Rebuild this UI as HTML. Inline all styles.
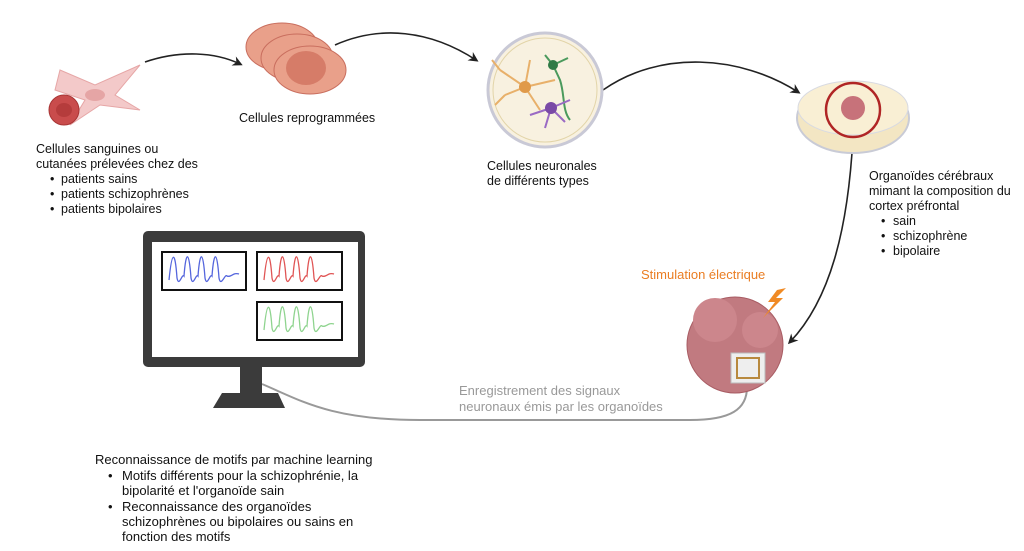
<!DOCTYPE html>
<html><head><meta charset="utf-8"><style>
body{margin:0;background:#fff;}
svg{display:block}
text{font-family:"Liberation Sans",sans-serif;font-size:12.5px;fill:#111}
</style></head><body>
<svg width="1024" height="551" viewBox="0 0 1024 551">
<defs>
<marker id="ah" markerWidth="10" markerHeight="10" refX="7" refY="5" orient="auto" markerUnits="userSpaceOnUse"><path d="M0,0 L10,5 L0,10 L3,5z" fill="#222"/></marker>
</defs>
<!-- arrows -->
<path d="M145,62 C180,50 215,52 240,64" stroke="#222" stroke-width="1.6" fill="none" marker-end="url(#ah)"/>
<path d="M335,45 C380,25 430,30 476,60" stroke="#222" stroke-width="1.6" fill="none" marker-end="url(#ah)"/>
<path d="M603,90 C660,50 740,55 798,92" stroke="#222" stroke-width="1.6" fill="none" marker-end="url(#ah)"/>
<path d="M853,137 C848,230 830,300 790,342" stroke="#222" stroke-width="1.6" fill="none" marker-end="url(#ah)"/>
<!-- gray cable -->
<path d="M262,384 C300,400 330,420 420,420 L690,420 C730,420 748,410 747,385" stroke="#999" stroke-width="2" fill="none"/>
<!-- fibroblast + blood cell -->
<path d="M60,70 L95,85 L140,65 L115,95 L140,110 L100,105 L70,125 L85,100 L55,90 Z" fill="#f3c9c9" stroke="#e6a6a6"/>
<ellipse cx="95" cy="95" rx="10" ry="6" fill="#e5a5a5"/>
<circle cx="64" cy="110" r="15" fill="#c94c4c" stroke="#a83535"/>
<ellipse cx="64" cy="110" rx="8" ry="7" fill="#b53c3c"/>
<!-- reprogrammed cells -->
<ellipse cx="282" cy="47" rx="36" ry="24" fill="#e9a08a" stroke="#c96e5e"/>
<ellipse cx="297" cy="58" rx="36" ry="24" fill="#e9a08a" stroke="#c96e5e"/>
<ellipse cx="310" cy="70" rx="36" ry="24" fill="#e9a08a" stroke="#c96e5e"/>
<ellipse cx="306" cy="68" rx="20" ry="17" fill="#d67c68"/>
<!-- neuron dish -->
<circle cx="545" cy="90" r="57" fill="#f8f1e0" stroke="#c9c9d6" stroke-width="3"/>
<circle cx="545" cy="90" r="52" fill="none" stroke="#e2d4a8" stroke-width="1"/>
<g stroke="#e8b06a" stroke-width="2" fill="none"><path d="M525,87 L500,70 M525,87 L505,95 M525,87 L530,60 M525,87 L540,110 M525,87 L555,80 M500,70 L492,60 M505,95 L495,105"/></g>
<circle cx="525" cy="87" r="6" fill="#e09a4a"/>
<g stroke="#4b9a5d" stroke-width="2" fill="none"><path d="M553,65 L545,55 M553,65 L568,58 M553,65 L560,80 C565,95 562,110 570,120"/></g>
<circle cx="553" cy="65" r="5" fill="#2f7a45"/>
<g stroke="#9a6ac4" stroke-width="2" fill="none"><path d="M551,108 L530,115 M551,108 L570,100 M551,108 L545,128 M551,108 L565,122"/></g>
<circle cx="551" cy="108" r="6" fill="#7a4aa6"/>
<!-- organoid dish -->
<ellipse cx="853" cy="118" rx="56" ry="35" fill="#f3e6c3" stroke="#c9cbd6" stroke-width="2"/>
<ellipse cx="853" cy="108" rx="55" ry="27" fill="#f9efd4" stroke="#d8dae2"/>
<circle cx="853" cy="108" r="12" fill="#c7727a"/>
<circle cx="853" cy="110" r="27" fill="none" stroke="#b02525" stroke-width="2.5"/>
<!-- big organoid -->
<circle cx="735" cy="345" r="48" fill="#c17a80" stroke="#a85c63"/>
<circle cx="715" cy="320" r="22" fill="#cc868c"/>
<circle cx="760" cy="330" r="18" fill="#cc868c"/>
<rect x="731" y="353" width="34" height="30" fill="#eee" stroke="#bbb"/>
<rect x="737" y="358" width="22" height="20" fill="none" stroke="#b8893e" stroke-width="2"/>
<path d="M777,290 L768,302 L775,302 L763,318 L783,298 L776,298 L786,288 Z" fill="#f08a24"/>
<text x="641" y="279" style="font-size:13px;fill:#ea7d22">Stimulation électrique</text>
<!-- monitor -->
<rect x="143" y="231" width="222" height="136" rx="5" fill="#3b3b3b"/>
<rect x="152" y="242" width="206" height="115" fill="#fff"/>
<rect x="240" y="367" width="22" height="27" fill="#3b3b3b"/>
<path d="M222,393 L278,393 L285,408 L213,408 Z" fill="#3b3b3b"/>
<rect x="162" y="252" width="84" height="38" fill="#fff" stroke="#111" stroke-width="2"/>
<rect x="257" y="252" width="85" height="38" fill="#fff" stroke="#111" stroke-width="2"/>
<rect x="257" y="302" width="85" height="38" fill="#fff" stroke="#111" stroke-width="2"/>
<path id="w" d="M0,22 C3,-8 6,-8 8,20 C10,30 13,15 15,18 C17,-8 20,-8 22,20 C24,30 27,15 29,18 C31,-8 34,-8 36,20 C38,30 41,15 43,18 C45,-8 48,-8 50,20 C52,30 56,15 58,18 C62,20 64,14 70,16" fill="none" stroke="#5566dd" stroke-width="1.3" transform="translate(169,258)"/>
<path d="M0,22 C3,-8 6,-8 8,20 C10,30 13,15 15,18 C17,-8 20,-8 22,20 C24,30 27,15 29,18 C31,-8 34,-8 36,20 C38,30 41,15 43,18 C45,-8 48,-8 50,20 C52,30 56,15 58,18 C62,20 64,14 70,16" fill="none" stroke="#e05555" stroke-width="1.3" transform="translate(264,258)"/>
<path d="M0,22 C3,-8 6,-8 8,20 C10,30 13,15 15,18 C17,-8 20,-8 22,20 C24,30 27,15 29,18 C31,-8 34,-8 36,20 C38,30 41,15 43,18 C45,-8 48,-8 50,20 C52,30 56,15 58,18 C62,20 64,14 70,16" fill="none" stroke="#8fd48f" stroke-width="1.3" transform="translate(264,308)"/>
<!-- texts -->
<text x="36" y="153">Cellules sanguines ou</text>
<text x="36" y="168">cutanées prélevées chez des</text>
<text x="50" y="183">•</text><text x="61" y="183">patients sains</text>
<text x="50" y="198">•</text><text x="61" y="198">patients schizophrènes</text>
<text x="50" y="213">•</text><text x="61" y="213">patients bipolaires</text>
<text x="239" y="122">Cellules reprogrammées</text>
<text x="487" y="170">Cellules neuronales</text>
<text x="487" y="185">de différents types</text>
<text x="869" y="180">Organoïdes cérébraux</text>
<text x="869" y="195">mimant la composition du</text>
<text x="869" y="210">cortex préfrontal</text>
<text x="881" y="225">•</text><text x="893" y="225">sain</text>
<text x="881" y="240">•</text><text x="893" y="240">schizophrène</text>
<text x="881" y="255">•</text><text x="893" y="255">bipolaire</text>
<text x="459" y="395" style="fill:#999;font-size:13px">Enregistrement des signaux</text>
<text x="459" y="411" style="fill:#999;font-size:13px">neuronaux émis par les organoïdes</text>
<text x="95" y="464" style="font-size:13px">Reconnaissance de motifs par machine learning</text>
<text x="108" y="480" style="font-size:13px">•</text><text x="122" y="480" style="font-size:13px">Motifs différents pour la schizophrénie, la</text>
<text x="122" y="495" style="font-size:13px">bipolarité et l'organoïde sain</text>
<text x="108" y="511" style="font-size:13px">•</text><text x="122" y="511" style="font-size:13px">Reconnaissance des organoïdes</text>
<text x="122" y="526" style="font-size:13px">schizophrènes ou bipolaires ou sains en</text>
<text x="122" y="541" style="font-size:13px">fonction des motifs</text>
</svg>
</body></html>
